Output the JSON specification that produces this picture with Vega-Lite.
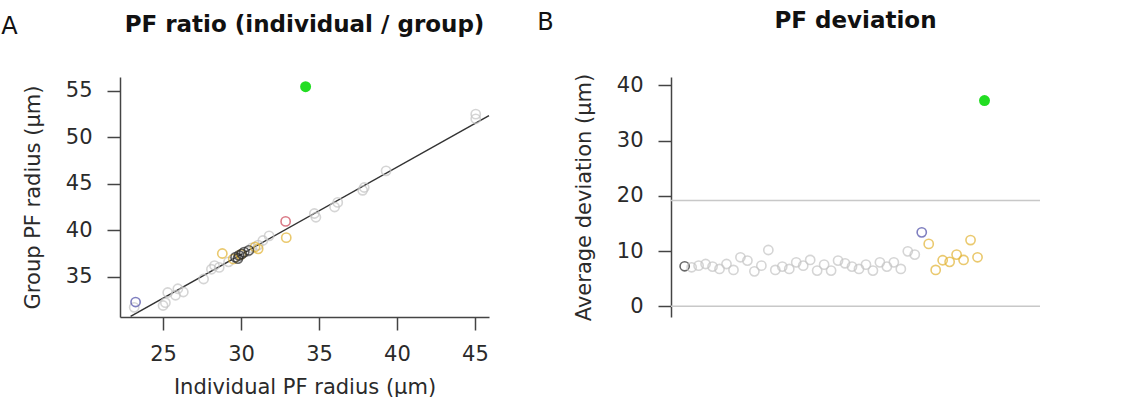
{
  "$schema": "https://vega.github.io/schema/vega-lite/v6.json",
  "background": "white",
  "padding": {"left": 1, "top": 10, "right": 0, "bottom": 0},
  "config": {
    "font": "DejaVu Sans",
    "view": {"stroke": null},
    "axis": {
      "grid": false,
      "domainColor": "#444", "domainWidth": 1.5,
      "labelFont": "DejaVu Sans", "labelFontSize": 21, "labelColor": "#2a2a2a",
      "titleFont": "DejaVu Sans", "titleFontSize": 21, "titleFontWeight": "normal", "titleColor": "#2a2a2a",
      "tickColor": "#444", "tickSize": 13, "tickWidth": 1.5,
      "labelFlush": false, "labelOverlap": false
    },
    "title": {"font": "DejaVu Sans", "fontSize": 23, "fontWeight": "bold", "color": "#111"}
  },
  "datasets": {
    "fitA": [{"x": 22.92, "y": 30.73}, {"x": 45.9, "y": 52.34}],
    "pointsA": [
      {"x": 23.15, "y": 31.7, "g": "gray"},
      {"x": 25.0, "y": 31.9, "g": "gray"},
      {"x": 25.15, "y": 32.2, "g": "gray"},
      {"x": 25.3, "y": 33.3, "g": "gray"},
      {"x": 25.8, "y": 33.0, "g": "gray"},
      {"x": 25.95, "y": 33.7, "g": "gray"},
      {"x": 26.3, "y": 33.35, "g": "gray"},
      {"x": 27.6, "y": 34.75, "g": "gray"},
      {"x": 28.1, "y": 35.8, "g": "gray"},
      {"x": 28.3, "y": 36.2, "g": "gray"},
      {"x": 28.6, "y": 36.0, "g": "gray"},
      {"x": 29.2, "y": 36.6, "g": "gray"},
      {"x": 29.9, "y": 37.2, "g": "gray"},
      {"x": 30.4, "y": 37.7, "g": "gray"},
      {"x": 30.7, "y": 38.1, "g": "gray"},
      {"x": 31.1, "y": 38.4, "g": "gray"},
      {"x": 31.4, "y": 38.9, "g": "gray"},
      {"x": 31.8, "y": 39.4, "g": "gray"},
      {"x": 34.7, "y": 41.8, "g": "gray"},
      {"x": 34.8, "y": 41.4, "g": "gray"},
      {"x": 36.0, "y": 42.5, "g": "gray"},
      {"x": 36.2, "y": 43.0, "g": "gray"},
      {"x": 37.8, "y": 44.3, "g": "gray"},
      {"x": 37.9, "y": 44.6, "g": "gray"},
      {"x": 39.3, "y": 46.4, "g": "gray"},
      {"x": 45.05, "y": 52.5, "g": "gray"},
      {"x": 45.05, "y": 52.0, "g": "gray"},
      {"x": 28.8, "y": 37.5, "g": "yellow"},
      {"x": 29.5, "y": 36.9, "g": "yellow"},
      {"x": 30.0, "y": 37.4, "g": "yellow"},
      {"x": 30.9, "y": 38.2, "g": "yellow"},
      {"x": 31.1, "y": 38.0, "g": "yellow"},
      {"x": 32.9, "y": 39.2, "g": "yellow"},
      {"x": 29.65, "y": 37.1, "g": "black"},
      {"x": 29.8, "y": 36.95, "g": "black"},
      {"x": 29.87, "y": 37.3, "g": "black"},
      {"x": 30.05, "y": 37.45, "g": "black"},
      {"x": 30.2, "y": 37.65, "g": "black"},
      {"x": 30.5, "y": 37.83, "g": "black"},
      {"x": 23.24, "y": 32.27, "g": "blue"},
      {"x": 32.86, "y": 40.95, "g": "red"},
      {"x": 34.14, "y": 55.46, "g": "green"}
    ],
    "refB": [{"h": 0}, {"h": 19.15}],
    "pointsB": [
      {"i": 1, "d": 7.25, "g": "black"},
      {"i": 2, "d": 7.07, "g": "gray"},
      {"i": 3, "d": 7.37, "g": "gray"},
      {"i": 4, "d": 7.67, "g": "gray"},
      {"i": 5, "d": 7.19, "g": "gray"},
      {"i": 6, "d": 6.77, "g": "gray"},
      {"i": 7, "d": 7.67, "g": "gray"},
      {"i": 8, "d": 6.59, "g": "gray"},
      {"i": 9, "d": 8.88, "g": "gray"},
      {"i": 10, "d": 8.28, "g": "gray"},
      {"i": 11, "d": 6.34, "g": "gray"},
      {"i": 12, "d": 7.37, "g": "gray"},
      {"i": 13, "d": 10.2, "g": "gray"},
      {"i": 14, "d": 6.59, "g": "gray"},
      {"i": 15, "d": 7.19, "g": "gray"},
      {"i": 16, "d": 6.77, "g": "gray"},
      {"i": 17, "d": 7.97, "g": "gray"},
      {"i": 18, "d": 7.37, "g": "gray"},
      {"i": 19, "d": 8.4, "g": "gray"},
      {"i": 20, "d": 6.47, "g": "gray"},
      {"i": 21, "d": 7.55, "g": "gray"},
      {"i": 22, "d": 6.47, "g": "gray"},
      {"i": 23, "d": 8.28, "g": "gray"},
      {"i": 24, "d": 7.79, "g": "gray"},
      {"i": 25, "d": 7.19, "g": "gray"},
      {"i": 26, "d": 6.77, "g": "gray"},
      {"i": 27, "d": 7.55, "g": "gray"},
      {"i": 28, "d": 6.47, "g": "gray"},
      {"i": 29, "d": 7.97, "g": "gray"},
      {"i": 30, "d": 7.19, "g": "gray"},
      {"i": 31, "d": 7.97, "g": "gray"},
      {"i": 32, "d": 6.77, "g": "gray"},
      {"i": 33, "d": 9.96, "g": "gray"},
      {"i": 34, "d": 9.37, "g": "gray"},
      {"i": 35, "d": 13.4, "g": "blue"},
      {"i": 36, "d": 11.3, "g": "yellow"},
      {"i": 37, "d": 6.59, "g": "yellow"},
      {"i": 38, "d": 8.35, "g": "yellow"},
      {"i": 39, "d": 8.05, "g": "yellow"},
      {"i": 40, "d": 9.37, "g": "yellow"},
      {"i": 41, "d": 8.4, "g": "yellow"},
      {"i": 42, "d": 12.0, "g": "yellow"},
      {"i": 43, "d": 8.88, "g": "yellow"},
      {"i": 44, "d": 37.25, "g": "green"}
    ]
  },
  "spacing": 45,
  "hconcat": [
    {
      "title": {"text": "A", "anchor": "start", "frame": "bounds", "fontSize": 24, "fontWeight": "normal", "color": "#111", "offset": -25, "dx": -21},
      "vconcat": [
        {
          "width": 369,
          "height": 240,
          "title": {"text": "PF ratio (individual / group)", "anchor": "middle", "frame": "group", "offset": 40},
          "layer": [
            {
              "data": {"name": "fitA"},
              "mark": {"type": "line", "color": "#333", "strokeWidth": 1.5},
              "encoding": {
                "x": {"field": "x", "type": "quantitative",
                  "scale": {"domain": [22.24, 45.9], "nice": false, "zero": false},
                  "axis": {"values": [25, 30, 35, 40, 45], "title": "Individual PF radius (μm)",
                    "labelPadding": 13, "titlePadding": 12}},
                "y": {"field": "y", "type": "quantitative",
                  "scale": {"domain": [30.66, 56.5], "nice": false, "zero": false},
                  "axis": {"values": [35, 40, 45, 50, 55], "title": "Group PF radius (μm)",
                    "labelPadding": 15, "titlePadding": 22}}
              }
            },
            {
              "data": {"name": "pointsA"},
              "transform": [{"filter": "datum.g !== 'green'"}],
              "mark": {"type": "point", "filled": false, "size": 85, "strokeWidth": 1.6},
              "encoding": {
                "x": {"field": "x", "type": "quantitative"},
                "y": {"field": "y", "type": "quantitative"},
                "color": {"field": "g", "type": "nominal", "legend": null,
                  "scale": {"domain": ["gray", "yellow", "black", "blue", "red", "green"],
                    "range": ["#c4c4c4", "#e2b332", "#2b2b2b", "#4a4aa6", "#cc4455", "#22dd22"]}}
              }
            },
            {
              "data": {"name": "pointsA"},
              "transform": [{"filter": "datum.g === 'green'"}],
              "mark": {"type": "circle", "size": 120, "opacity": 1, "color": "#22dd22"},
              "encoding": {
                "x": {"field": "x", "type": "quantitative"},
                "y": {"field": "y", "type": "quantitative"}
              }
            }
          ]
        }
      ]
    },
    {
      "title": {"text": "B", "anchor": "start", "frame": "bounds", "fontSize": 24, "fontWeight": "normal", "color": "#111", "offset": -25, "dx": -36},
      "vconcat": [
        {
          "width": 369,
          "height": 240,
          "title": {"text": "PF deviation", "anchor": "middle", "frame": "group", "offset": 40},
          "layer": [
            {
              "data": {"name": "refB"},
              "mark": {"type": "rule", "color": "#c8c8c8", "strokeWidth": 1.5},
              "encoding": {
                "y": {"field": "h", "type": "quantitative",
                  "scale": {"domain": [-1.93, 41.52], "nice": false, "zero": false},
                  "axis": {"values": [0, 10, 20, 30, 40], "title": "Average deviation (μm)",
                    "labelPadding": 15, "titlePadding": 22}}
              }
            },
            {
              "data": {"name": "pointsB"},
              "transform": [{"filter": "datum.g !== 'green'"}],
              "mark": {"type": "point", "filled": false, "size": 85, "strokeWidth": 1.6},
              "encoding": {
                "x": {"field": "i", "type": "quantitative", "axis": null,
                  "scale": {"domain": [-0.96, 51.96], "nice": false, "zero": false}},
                "y": {"field": "d", "type": "quantitative"},
                "color": {"field": "g", "type": "nominal", "legend": null,
                  "scale": {"domain": ["gray", "yellow", "black", "blue", "red", "green"],
                    "range": ["#c4c4c4", "#e2b332", "#2b2b2b", "#4a4aa6", "#cc4455", "#22dd22"]}}
              }
            },
            {
              "data": {"name": "pointsB"},
              "transform": [{"filter": "datum.g === 'green'"}],
              "mark": {"type": "circle", "size": 120, "opacity": 1, "color": "#22dd22"},
              "encoding": {
                "x": {"field": "i", "type": "quantitative"},
                "y": {"field": "d", "type": "quantitative"}
              }
            }
          ]
        }
      ]
    }
  ]
}
